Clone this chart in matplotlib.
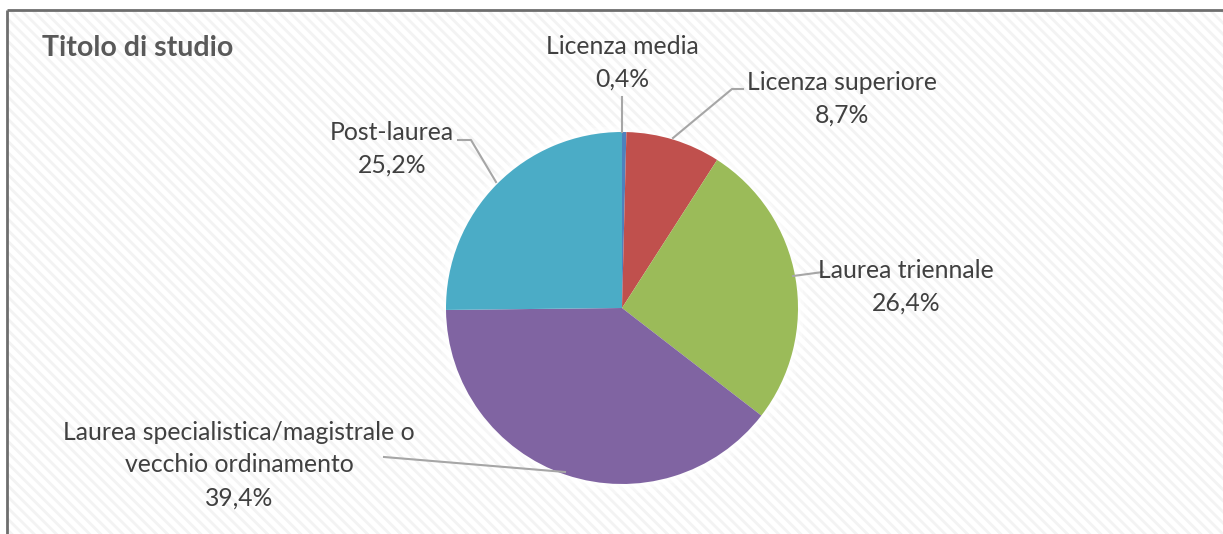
import numpy as np
import matplotlib
matplotlib.use("Agg")
import matplotlib.pyplot as plt
from matplotlib.patches import Rectangle, Circle

W, H = 1223, 534

title = "Titolo di studio"
categories = [
    "Licenza media",
    "Licenza superiore",
    "Laurea triennale",
    "Laurea specialistica/magistrale o\nvecchio ordinamento",
    "Post-laurea",
]
values = [0.4, 8.7, 26.4, 39.4, 25.2]
colors = ["#4F81BD", "#C0504D", "#9BBB59", "#8064A2", "#4BACC6"]

# label anchor (center x, first-line center y) in pixels from top-left
label_pos = [(622, 46), (842, 82), (906, 270), (239, 432), (392, 132)]
# leader lines, pixel polylines
leaders = [
    [(622, 97), (622, 132)],
    [(743, 89), (732, 89), (673, 138)],
    [(823, 272), (793, 276)],
    [(384, 457), (565, 472)],
    [(458, 140), (471, 140), (496, 182)],
]

center = (622, 308)
radius = 176
line_pitch = 33

plt.rcParams["font.family"] = ["Lato", "DejaVu Sans"]
plt.rcParams["hatch.linewidth"] = 2.0


def Y(py):
    return H - py


fig = plt.figure(figsize=(W / 100, H / 100), dpi=100)
ax = fig.add_axes([0, 0, 1, 1])

# hatched background inside frame (runs past the right/bottom edges)
bg = Rectangle((7, -40), W + 40, Y(10) + 40, facecolor="white", edgecolor="#F3F3F3",
               hatch="\\\\\\", linewidth=0, zorder=0)
ax.add_patch(bg)
ax.plot([7, W + 5], [Y(10), Y(10)], color="#6E6E6E", lw=2, zorder=1, solid_capstyle="butt")
ax.plot([7, 7], [Y(10), -5], color="#6E6E6E", lw=2, zorder=1, solid_capstyle="butt")

# soft white halo round the pie
for dr, a in [(10, 0.25), (6, 0.35), (3, 0.5)]:
    ax.add_patch(Circle((center[0], Y(center[1])), radius + dr, facecolor="white",
                        edgecolor="none", alpha=a, zorder=1))

ax.pie(values, colors=colors, startangle=90, counterclock=False,
       center=(center[0], Y(center[1])), radius=radius,
       wedgeprops=dict(linewidth=0, zorder=2))

for cat, v, (lx, ly), pts in zip(categories, values, label_pos, leaders):
    lines = cat.split("\n") + [f"{v:.1f}".replace(".", ",") + "%"]
    for i, s in enumerate(lines):
        ax.text(lx, Y(ly + i * line_pitch), s, ha="center", va="center",
                fontsize=17.8, color="#404040", zorder=4)
    xs = [p[0] for p in pts]
    ys = [Y(p[1]) for p in pts]
    ax.plot(xs, ys, color="#A6A6A6", lw=1.5, zorder=3)

ax.text(42, Y(48), title, ha="left", va="center", fontsize=20.5,
        fontweight="bold", color="#595959", zorder=4)

ax.set_xlim(0, W)
ax.set_ylim(0, H)
ax.set_aspect("auto")
ax.axis("off")

fig.savefig("out.png", dpi=100, facecolor="white")
